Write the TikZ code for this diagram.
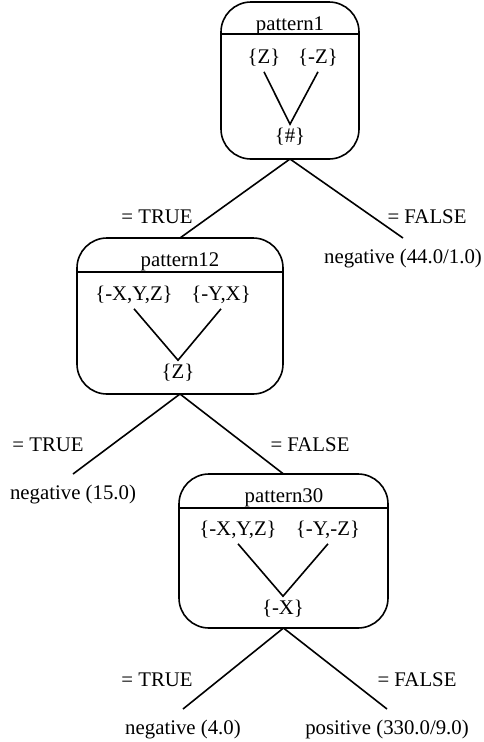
\documentclass[tikz,border=0pt]{standalone}
\usepackage{fontspec}
\setmainfont{Liberation Serif}
\begin{document}
\begin{tikzpicture}[x=1pt,y=-1pt,line width=1.6pt,
  every node/.style={font=\fontsize{20.8}{24}\selectfont},
  box/.style={draw, rounded corners=30pt, outer sep=0pt, inner sep=0pt},
  title/.style={anchor=base, inner sep=0pt},
  setnode/.style={anchor=base, inner xsep=1pt, inner ysep=3pt, text height=14pt, text depth=5pt},
  leaf/.style={anchor=north, inner xsep=0pt, inner ysep=11pt, text height=14pt, text depth=5pt},
  elabel/.style={inner sep=0pt}]
\useasboundingbox (0,0) rectangle (484,742);

% box 1
\node[box, minimum width=138pt, minimum height=157pt] (b1) at (290,80.5) {};
\draw ([yshift=-32pt]b1.north west) -- ([yshift=-32pt]b1.north east);
\node[title] (t1) at (290,30) {pattern1};
\node[setnode] (s1a) at (264,63) {\{Z\}};
\node[setnode] (s1b) at (318,63) {\{-Z\}};
\node[setnode] (s1c) at (290,142) {\{\#\}};
\draw (s1a.south) -- (s1c.north) -- (s1b.south);

% box 2
\node[box, minimum width=206pt, minimum height=156pt] (b2) at (180,316) {};
\draw ([yshift=-34pt]b2.north west) -- ([yshift=-34pt]b2.north east);
\node[title] (t2) at (180,266) {pattern12};
\node[setnode] (s2a) at (134,300) {\{-X,Y,Z\}};
\node[setnode] (s2b) at (221,300) {\{-Y,X\}};
\node[setnode] (s2c) at (178,378) {\{Z\}};
\draw (s2a.south) -- (s2c.north) -- (s2b.south);

% box 3
\node[box, minimum width=209pt, minimum height=154pt] (b3) at (283.5,551) {};
\draw ([yshift=-34pt]b3.north west) -- ([yshift=-34pt]b3.north east);
\node[title] (t3) at (284,502) {pattern30};
\node[setnode] (s3a) at (238,535) {\{-X,Y,Z\}};
\node[setnode] (s3b) at (328,535) {\{-Y,-Z\}};
\node[setnode] (s3c) at (283,614) {\{-X\}};
\draw (s3a.south) -- (s3c.north) -- (s3b.south);

% leaves
\node[leaf] (l1) at (403,238) {negative (44.0/1.0)};
\node[leaf] (l2) at (73,474) {negative (15.0)};
\node[leaf] (l3) at (183,709) {negative (4.0)};
\node[leaf] (l4) at (387,709) {positive (330.0/9.0)};

% edges
\draw (b1.south) -- (b2.north);
\draw (b1.south) -- (l1.north);
\draw (b2.south) -- (l2.north);
\draw (b2.south) -- (b3.north);
\draw (b3.south) -- (l3.north);
\draw (b3.south) -- (l4.north);

% edge labels
\node[elabel] (e1) at (157,217) {= TRUE};
\node[elabel] (e2) at (427,217) {= FALSE};
\node[elabel] (e3) at (48,445) {= TRUE};
\node[elabel] (e4) at (310,445) {= FALSE};
\node[elabel] (e5) at (157,680) {= TRUE};
\node[elabel] (e6) at (417,680) {= FALSE};
\end{tikzpicture}
\end{document}
